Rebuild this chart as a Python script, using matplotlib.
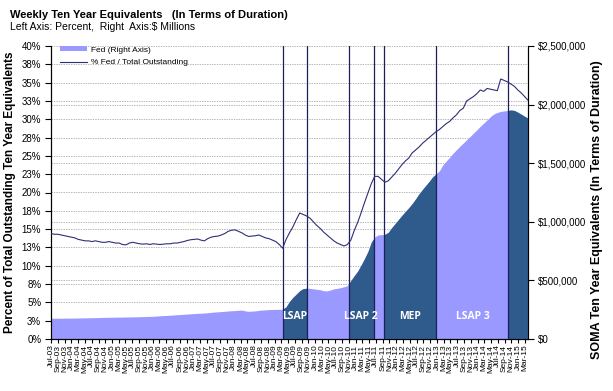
import matplotlib
matplotlib.use("Agg")
import matplotlib.pyplot as plt
import matplotlib.dates as mdates
from matplotlib.patches import Rectangle, Patch
from matplotlib.lines import Line2D
import numpy as np
import pandas as pd

plt.rcParams['font.family'] = ['Liberation Sans', 'DejaVu Sans']

# Monthly readings, Jul-03 .. Mar-15 (141 points)
dates = pd.date_range('2003-07-01', '2015-03-31', periods=141)

pct_fed = [
    14.4, 14.3, 14.3, 14.2, 14.1, 14.0, 13.9, 13.8, 13.6, 13.5, 13.4, 13.4,
    13.3, 13.4, 13.3, 13.2, 13.2, 13.3, 13.2, 13.1, 13.1, 12.9, 12.85, 13.1,
    13.2, 13.1, 13.0, 12.95, 13.0, 12.9, 13.0, 12.95, 12.9, 12.95, 13.0, 13.0,
    13.1, 13.1, 13.2, 13.3, 13.45, 13.55, 13.6, 13.65, 13.5, 13.4, 13.7, 13.9,
    14.0, 14.05, 14.2, 14.4, 14.7, 14.85, 14.9, 14.7, 14.5, 14.2, 14.0, 14.05,
    14.1, 14.2, 14.0, 13.8, 13.7, 13.5, 13.3, 12.9, 12.4, 13.6, 14.5, 15.3,
    16.3, 17.2, 17.0, 16.8, 16.5, 16.0, 15.5, 15.1, 14.6, 14.2, 13.8, 13.4,
    13.1, 12.9, 12.7, 12.9, 13.5, 14.8, 15.9, 17.2, 18.6, 19.9, 21.2, 22.2,
    22.2, 21.8, 21.4, 21.6, 22.1, 22.6, 23.2, 23.8, 24.3, 24.7, 25.4, 25.8,
    26.2, 26.7, 27.1, 27.5, 27.9, 28.3, 28.6, 29.0, 29.4, 29.7, 30.2, 30.6,
    31.2, 31.5, 32.5, 32.8, 33.1, 33.5, 34.0, 33.8, 34.2, 34.1, 34.0, 33.9,
    35.5, 35.3, 35.1, 34.8, 34.5, 34.0, 33.6, 33.1, 32.6,
]

fed_holdings = [  # $ millions, ten year equivalents
    177000, 177000, 177000, 177000, 178000, 178000, 178000, 179000, 179000, 180000,
    180000, 181000, 182000, 182000, 183000, 184000, 185000, 185000, 186000, 186000,
    187000, 187000, 188000, 188000, 189000, 189000, 190000, 191000, 192000, 193000,
    194000, 196000, 198000, 200000, 201000, 203000, 205000, 207000, 209000, 211000,
    213000, 215000, 217000, 219000, 220000, 222000, 224000, 227000, 230000, 232000,
    234000, 236000, 239000, 241000, 243000, 245000, 247000, 240000, 236000, 238000,
    240000, 244000, 247000, 249000, 251000, 252000, 253000, 253000, 254000, 275000,
    320000, 355000, 383000, 412000, 430000, 433000, 432000, 428000, 424000, 420000,
    412000, 410000, 418000, 428000, 432000, 438000, 446000, 455000, 498000, 540000,
    578000, 630000, 685000, 745000, 825000, 870000, 888000, 890000, 893000, 910000,
    950000, 985000, 1020000, 1055000, 1088000, 1120000, 1155000, 1195000, 1238000, 1275000,
    1310000, 1345000, 1383000, 1408000, 1435000, 1485000, 1518000, 1550000, 1585000, 1615000,
    1645000, 1672000, 1700000, 1728000, 1757000, 1785000, 1815000, 1842000, 1870000, 1898000,
    1920000, 1933000, 1942000, 1946000, 1950000, 1954000, 1950000, 1935000, 1918000, 1900000,
    1885000,
]

# program boundaries (vertical lines)
event_dates = pd.to_datetime(['2009-03-18', '2009-10-21', '2010-11-03', '2011-06-15',
                              '2011-09-14', '2012-12-19', '2014-10-01'])
# dark shaded spans (start, end)
dark_spans = [('2009-03-18', '2009-10-21'), ('2010-11-03', '2011-06-15'),
              ('2011-09-14', '2012-12-19'), ('2014-10-01', '2015-04-30')]
program_labels = ['LSAP', 'LSAP 2', 'MEP', 'LSAP 3']
program_label_dates = pd.to_datetime(['2009-06-28', '2011-02-20', '2012-04-30', '2013-11-17'])

left_ticks = np.arange(0, 40.1, 2.5)
left_labels = ['0%', '3%', '5%', '8%', '10%', '13%', '15%', '18%', '20%',
               '23%', '25%', '28%', '30%', '33%', '35%', '38%', '40%']
right_ticks = [0, 500000, 1000000, 1500000, 2000000, 2500000]
right_labels = ['$0', '$500,000', '$1,000,000', '$1,500,000', '$2,000,000', '$2,500,000']

light = '#9999FF'
dark = '#2E5A8C'
navy = '#1E1E5A'
line_col = '#2E2E78'

fig = plt.figure(figsize=(6.13, 3.91), dpi=100)
ax1 = fig.add_axes([51 / 613, 52 / 391, 477 / 613, 293 / 391])
ax2 = ax1.twinx()
ax1.set_zorder(2)
ax2.set_zorder(1)
ax1.patch.set_visible(False)

# area on the right axis
ax2.fill_between(dates, fed_holdings, 0, color=light, linewidth=0, zorder=2)
for s, e in dark_spans:
    poly = ax2.fill_between(dates, fed_holdings, 0, color=dark, linewidth=0, zorder=3)
    x0 = mdates.date2num(pd.Timestamp(s))
    x1 = mdates.date2num(pd.Timestamp(e))
    clip = Rectangle((x0, 0), x1 - x0, 3e6, transform=ax2.transData)
    poly.set_clip_path(clip)
ax2.set_ylim(0, 2500000)
ax2.set_yticks(right_ticks)
ax2.set_yticklabels(right_labels)
ax2.set_yticks(np.arange(0, 2500001, 156250), minor=True)
ax2.grid(which='minor', axis='y', color='#9A9A9A', linestyle=(0, (2, 1.5)), linewidth=0.5)
ax2.grid(which='major', axis='y', color='#9A9A9A', linestyle=(0, (2, 1.5)), linewidth=0.5)
ax2.set_axisbelow(True)
ax2.tick_params(axis='y', which='minor', length=0)
ax2.tick_params(axis='y', which='major', labelsize=7, length=4, direction='out', pad=3)

# line on the left axis
ax1.plot(dates, pct_fed, color=line_col, linewidth=0.8, zorder=5)
for d in event_dates:
    ax1.axvline(d, color=navy, linewidth=0.9, zorder=4)
for lab, d in zip(program_labels, program_label_dates):
    ax1.text(d, 3.1, lab, color='white', fontsize=7.5, fontweight='bold',
             family=['Open Sans', 'DejaVu Sans'], ha='center', va='center', zorder=6)

ax1.set_ylim(0, 40)
ax1.set_yticks(left_ticks)
ax1.set_yticklabels(left_labels)
ax1.tick_params(axis='y', labelsize=7, length=4, direction='out', pad=3)
ax1.set_xlim(dates[0], dates[-1])
ax1.xaxis.set_major_locator(mdates.MonthLocator(bymonth=[1, 3, 5, 7, 9, 11]))
ax1.xaxis.set_major_formatter(mdates.DateFormatter('%b-%y'))
ax1.tick_params(axis='x', labelsize=6, rotation=90, length=3, direction='out', pad=1)

for ax in (ax1, ax2):
    ax.spines['top'].set_visible(False)
    for side in ('left', 'right', 'bottom'):
        ax.spines[side].set_linewidth(0.8)

handles = [Patch(facecolor=light, edgecolor='none'), Line2D([], [], color=line_col, linewidth=0.8)]
ax1.legend(handles, ['Fed (Right Axis)', '% Fed / Total Outstanding'], loc='upper left',
           bbox_to_anchor=(0.015, 1.005), frameon=False, fontsize=6, handlelength=3.3,
           handleheight=0.6, handletextpad=0.4, labelspacing=0.6, borderpad=0.2, borderaxespad=0)

fig.text(10 / 613, 1 - 15 / 391, 'Weekly Ten Year Equivalents   (In Terms of Duration)',
         fontsize=8, fontweight='bold', va='center', ha='left')
fig.text(10 / 613, 1 - 27 / 391, 'Left Axis: Percent,  Right  Axis:$ Millions',
         fontsize=7.5, va='center', ha='left')
fig.text(10 / 613, 1 - 192 / 391, 'Percent of Total Outstanding Ten Year Equivalents',
         fontsize=8.5, fontweight='bold', rotation=90, va='center', ha='center')
fig.text(597 / 613, 1 - 210 / 391, 'SOMA Ten Year Equivalents (In Terms of Duration)',
         fontsize=9, fontweight='bold', rotation=90, va='center', ha='center')

fig.savefig('out.png', dpi=100)
